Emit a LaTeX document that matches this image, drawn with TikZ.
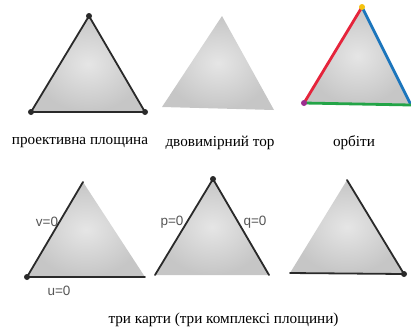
\documentclass[tikz,border=0pt]{standalone}
\usepackage{fontspec}
\setmainfont{Liberation Serif}
\newfontfamily\lblfont{Liberation Sans}
\definecolor{edgeDark}{HTML}{2A2A2A}
\definecolor{orbRed}{HTML}{E5243B}
\definecolor{orbBlue}{HTML}{1B75BC}
\definecolor{orbGreen}{HTML}{23A447}
\definecolor{orbYellow}{HTML}{F4C20D}
\definecolor{orbPurple}{HTML}{9B2D8E}
\definecolor{lblGrey}{HTML}{555555}
\begin{document}
\begin{tikzpicture}[x=1pt,y=-1pt,
  tri/.style={shading=radial,inner color=gray!20,outer color=gray!45},
  darkedge/.style={draw=edgeDark,line width=1.8pt,line cap=round},
  cedge/.style={line width=2.8pt,line cap=round},
  vdot/.style={circle,fill=edgeDark,inner sep=0pt,minimum size=6pt},
  captext/.style={font=\fontsize{15.2}{17}\selectfont,text=black,inner sep=0pt},
  lbl/.style={font=\lblfont\fontsize{13.5}{15}\selectfont,text=lblGrey,inner sep=0pt}]
\useasboundingbox (0,0) rectangle (411,333);
% triangle 1
\coordinate (a1) at (89,16); \coordinate (b1) at (31,112); \coordinate (c1) at (145,112);
\shade[tri] (a1) -- (b1) -- (c1) -- cycle;
\draw[darkedge] (a1) -- (b1) -- (c1) -- cycle;
\node[vdot] (da1) at (a1) {}; \node[vdot] (db1) at (b1) {}; \node[vdot] (dc1) at (c1) {};
\node[captext] (t1) at (80,143) {проективна площина};
% triangle 2
\coordinate (a2) at (222,16); \coordinate (b2) at (162,107); \coordinate (c2) at (274,110);
\shade[tri] (a2) -- (b2) -- (c2) -- cycle;
\node[captext] (t2) at (220,143) {двовимірний тор};
% triangle 3
\coordinate (a3) at (362,7); \coordinate (b3) at (304,103); \coordinate (c3) at (411,105);
\shade[tri] (a3) -- (b3) -- (c3) -- cycle;
\draw[cedge,draw=orbRed] (a3) -- (b3);
\draw[cedge,draw=orbBlue] (a3) -- (c3);
\draw[cedge,draw=orbGreen] (b3) -- (c3);
\node[circle,fill=orbYellow,inner sep=0pt,minimum size=6pt] (da3) at (a3) {};
\node[circle,fill=orbPurple,inner sep=0pt,minimum size=6pt] (db3) at (b3) {};
\node[captext] (t3) at (354,143) {орбіти};
% triangle 4
\coordinate (a4) at (83,182); \coordinate (b4) at (27,277); \coordinate (c4) at (145,277);
\shade[tri] (a4) -- (b4) -- (c4) -- cycle;
\draw[darkedge] (a4) -- (b4) -- (c4);
\node[vdot] (db4) at (b4) {};
\node[lbl] (v0) at (47,222) {v=0};
\node[lbl] (u0) at (59,291) {u=0};
% triangle 5
\coordinate (a5) at (213,179); \coordinate (b5) at (155,275); \coordinate (c5) at (269,275);
\shade[tri] (a5) -- (b5) -- (c5) -- cycle;
\draw[darkedge] (b5) -- (a5) -- (c5);
\node[vdot] (da5) at (a5) {};
\node[lbl] (p0) at (172,222) {p=0};
\node[lbl] (q0) at (255,222) {q=0};
% triangle 6
\coordinate (a6) at (347,180); \coordinate (b6) at (290,273); \coordinate (c6) at (404,274);
\shade[tri] (a6) -- (b6) -- (c6) -- cycle;
\draw[darkedge] (a6) -- (c6) -- (b6);
\node[vdot] (dc6) at (c6) {};
\node[captext] (t4) at (223.5,320) {три карти (три комплексі площини)};
\end{tikzpicture}
\end{document}
